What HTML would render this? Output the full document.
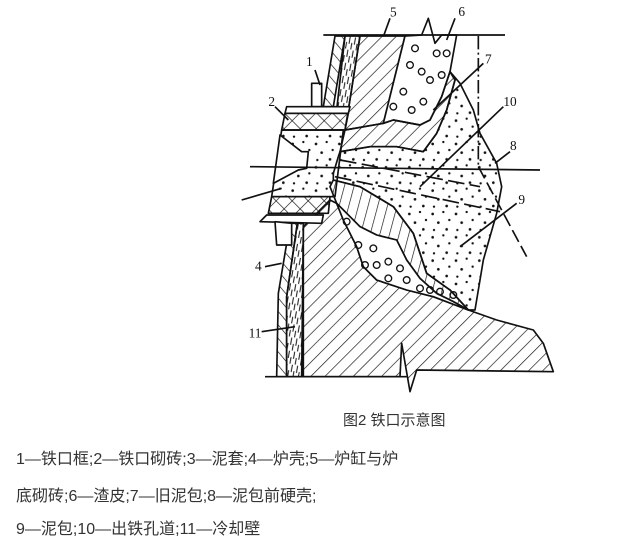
<!DOCTYPE html>
<html><head><meta charset="utf-8"><style>
html,body{margin:0;padding:0;background:#fff;width:620px;height:544px;overflow:hidden}
.t{position:absolute;font-family:"Liberation Sans","Noto Sans CJK SC",sans-serif;color:#333;white-space:nowrap}
</style></head><body>
<svg width="620" height="544" style="position:absolute;left:0;top:0">
<defs>
<pattern id="h" width="30" height="30" patternUnits="userSpaceOnUse" patternTransform="rotate(45)"><line x1="0" y1="0" x2="0" y2="30" stroke="#111" stroke-width="4"/></pattern>
<pattern id="hb" width="26" height="26" patternUnits="userSpaceOnUse" patternTransform="rotate(-40)"><line x1="0" y1="0" x2="0" y2="26" stroke="#111" stroke-width="4"/></pattern>
<pattern id="hv" width="28" height="28" patternUnits="userSpaceOnUse" patternTransform="rotate(15)"><line x1="0" y1="0" x2="0" y2="28" stroke="#111" stroke-width="4"/></pattern>
<pattern id="x" width="34" height="34" patternUnits="userSpaceOnUse" patternTransform="rotate(45)"><line x1="0" y1="0" x2="0" y2="34" stroke="#111" stroke-width="4"/><line x1="0" y1="0" x2="34" y2="0" stroke="#111" stroke-width="4"/></pattern>
<pattern id="d" width="70" height="70" patternUnits="userSpaceOnUse"><circle cx="8" cy="12" r="4" fill="#111"/><circle cx="40" cy="6" r="3.5" fill="#111"/><circle cx="25" cy="38" r="4" fill="#111"/><circle cx="58" cy="30" r="3.5" fill="#111"/><circle cx="12" cy="60" r="3.5" fill="#111"/><circle cx="50" cy="58" r="4" fill="#111"/></pattern>
<pattern id="c" width="16" height="40" patternUnits="userSpaceOnUse" patternTransform="rotate(10)"><line x1="4" y1="0" x2="4" y2="22" stroke="#111" stroke-width="3"/><line x1="12" y1="18" x2="12" y2="38" stroke="#111" stroke-width="3"/></pattern>
</defs>
<g transform="translate(220,0) scale(0.33333)" stroke="#111" stroke-width="5" stroke-linejoin="round" fill="none">
<polygon fill="url(#h)" points="250,680 330,600 350,610 370,660 410,740 430,800 470,840 560,870 640,890 745,930 830,960 940,990 970,1030 1000,1115 590,1110 570,1175 545,1030 540,1130 250,1130"/>
<polygon fill="url(#h)" points="420,108 555,108 490,370 375,390 385,330"/>
<polygon fill="#fff" points="555,108 605,105 625,55 645,130 665,105 710,105 690,215 665,290 630,360 600,375 520,360 490,370"/>
<polygon fill="url(#h)" points="375,390 490,370 520,360 600,375 630,360 665,290 690,215 705,240 680,330 650,400 610,455 530,440 450,440 360,455"/>
<polygon fill="url(#d)" points="360,455 450,440 530,440 610,455 650,400 680,330 705,240 690,215 720,250 760,330 780,400 830,490 845,560 830,640 790,780 765,930 745,930 690,870 620,820 580,700 520,620 420,560 340,540 340,520 355,470"/>
<polygon fill="url(#hv)" points="330,560 340,540 420,560 520,620 580,700 620,820 690,870 745,930 700,905 650,880 600,835 560,780 530,720 470,705 420,680 380,640 350,610"/>
<polygon fill="#fff" points="350,610 380,640 420,680 470,705 530,720 560,780 600,835 650,880 700,905 745,930 640,890 560,870 470,840 430,800 410,740 370,660"/>
<polygon fill="url(#hb)" points="345,108 375,108 340,320 310,320"/>
<polygon fill="url(#c)" points="375,108 420,108 385,330 350,330"/>
<polygon fill="url(#hb)" points="210,670 232,670 200,890 200,1130 170,1130 175,880"/>
<polygon fill="url(#c)" points="232,670 250,670 245,1130 200,1130 200,890"/>
<polygon fill="#fff" points="275,320 275,250 305,250 305,320"/>
<polygon fill="#fff" points="200,320 390,320 385,340 195,340"/>
<polygon fill="url(#x)" points="195,340 385,340 375,390 185,390"/>
<polygon fill="url(#d)" points="185,390 370,390 345,590 155,590"/>
<polygon fill="#fff" points="180,405 245,455 265,455 260,505 235,510 160,550"/>
<polygon fill="url(#x)" points="155,590 330,590 325,640 145,640"/>
<polygon fill="#fff" points="140,645 310,645 305,670 120,665"/>
<polygon fill="#fff" points="165,665 170,735 215,735 215,670"/>
<line x1="310" y1="105" x2="855" y2="105"/>
<line x1="135" y1="1130" x2="560" y2="1130"/>
<line x1="90" y1="500" x2="960" y2="510"/>
<line x1="775" y1="108" x2="775" y2="500" stroke-dasharray="40 10 6 10"/>
<line x1="775" y1="500" x2="920" y2="770" stroke-dasharray="40 14"/>
<line x1="360" y1="480" x2="780" y2="560" stroke-dasharray="50 16"/>
<line x1="345" y1="530" x2="840" y2="635" stroke-dasharray="50 16"/>
<line x1="65" y1="600" x2="185" y2="565"/>
<line x1="285" y1="210" x2="300" y2="255"/>
<line x1="165" y1="320" x2="205" y2="360"/>
<line x1="510" y1="55" x2="490" y2="110"/>
<line x1="705" y1="55" x2="680" y2="120"/>
<line x1="790" y1="190" x2="640" y2="330"/>
<line x1="850" y1="320" x2="600" y2="560"/>
<line x1="870" y1="455" x2="825" y2="490"/>
<line x1="890" y1="610" x2="720" y2="740"/>
<line x1="135" y1="800" x2="185" y2="790"/>
<line x1="125" y1="995" x2="225" y2="980"/>
<g stroke-width="4">
<circle cx="585" cy="145" r="10"/><circle cx="650" cy="160" r="10"/><circle cx="680" cy="160" r="10"/><circle cx="570" cy="195" r="10"/><circle cx="605" cy="215" r="10"/><circle cx="665" cy="225" r="10"/><circle cx="630" cy="240" r="10"/><circle cx="550" cy="275" r="10"/><circle cx="610" cy="305" r="10"/><circle cx="520" cy="320" r="10"/><circle cx="575" cy="330" r="10"/>
<circle cx="380" cy="665" r="10"/><circle cx="415" cy="735" r="10"/><circle cx="460" cy="745" r="10"/><circle cx="435" cy="795" r="10"/><circle cx="470" cy="795" r="10"/><circle cx="505" cy="785" r="10"/><circle cx="540" cy="805" r="10"/><circle cx="505" cy="835" r="10"/><circle cx="560" cy="840" r="10"/><circle cx="600" cy="865" r="10"/><circle cx="630" cy="870" r="10"/><circle cx="660" cy="875" r="10"/><circle cx="700" cy="885" r="10"/>
</g>
<g fill="#111" stroke="none" font-family="Liberation Serif,serif" font-size="40" text-anchor="middle">
<text x="268" y="198">1</text><text x="155" y="318">2</text><text x="520" y="50">5</text><text x="725" y="48">6</text><text x="805" y="190">7</text><text x="870" y="318">10</text><text x="880" y="450">8</text><text x="905" y="612">9</text><text x="115" y="812">4</text><text x="105" y="1012">11</text>
</g>
</g>
</svg>
<div class="t" style="left:343px;top:409px;font-size:15px">图2 铁口示意图</div>
<div class="t" style="left:16px;top:445px;font-size:16px">1—铁口框;2—铁口砌砖;3—泥套;4—炉壳;5—炉缸与炉</div>
<div class="t" style="left:16px;top:482px;font-size:16px">底砌砖;6—渣皮;7—旧泥包;8—泥包前硬壳;</div>
<div class="t" style="left:16px;top:515px;font-size:16px">9—泥包;10—出铁孔道;11—冷却壁</div>
</body></html>
